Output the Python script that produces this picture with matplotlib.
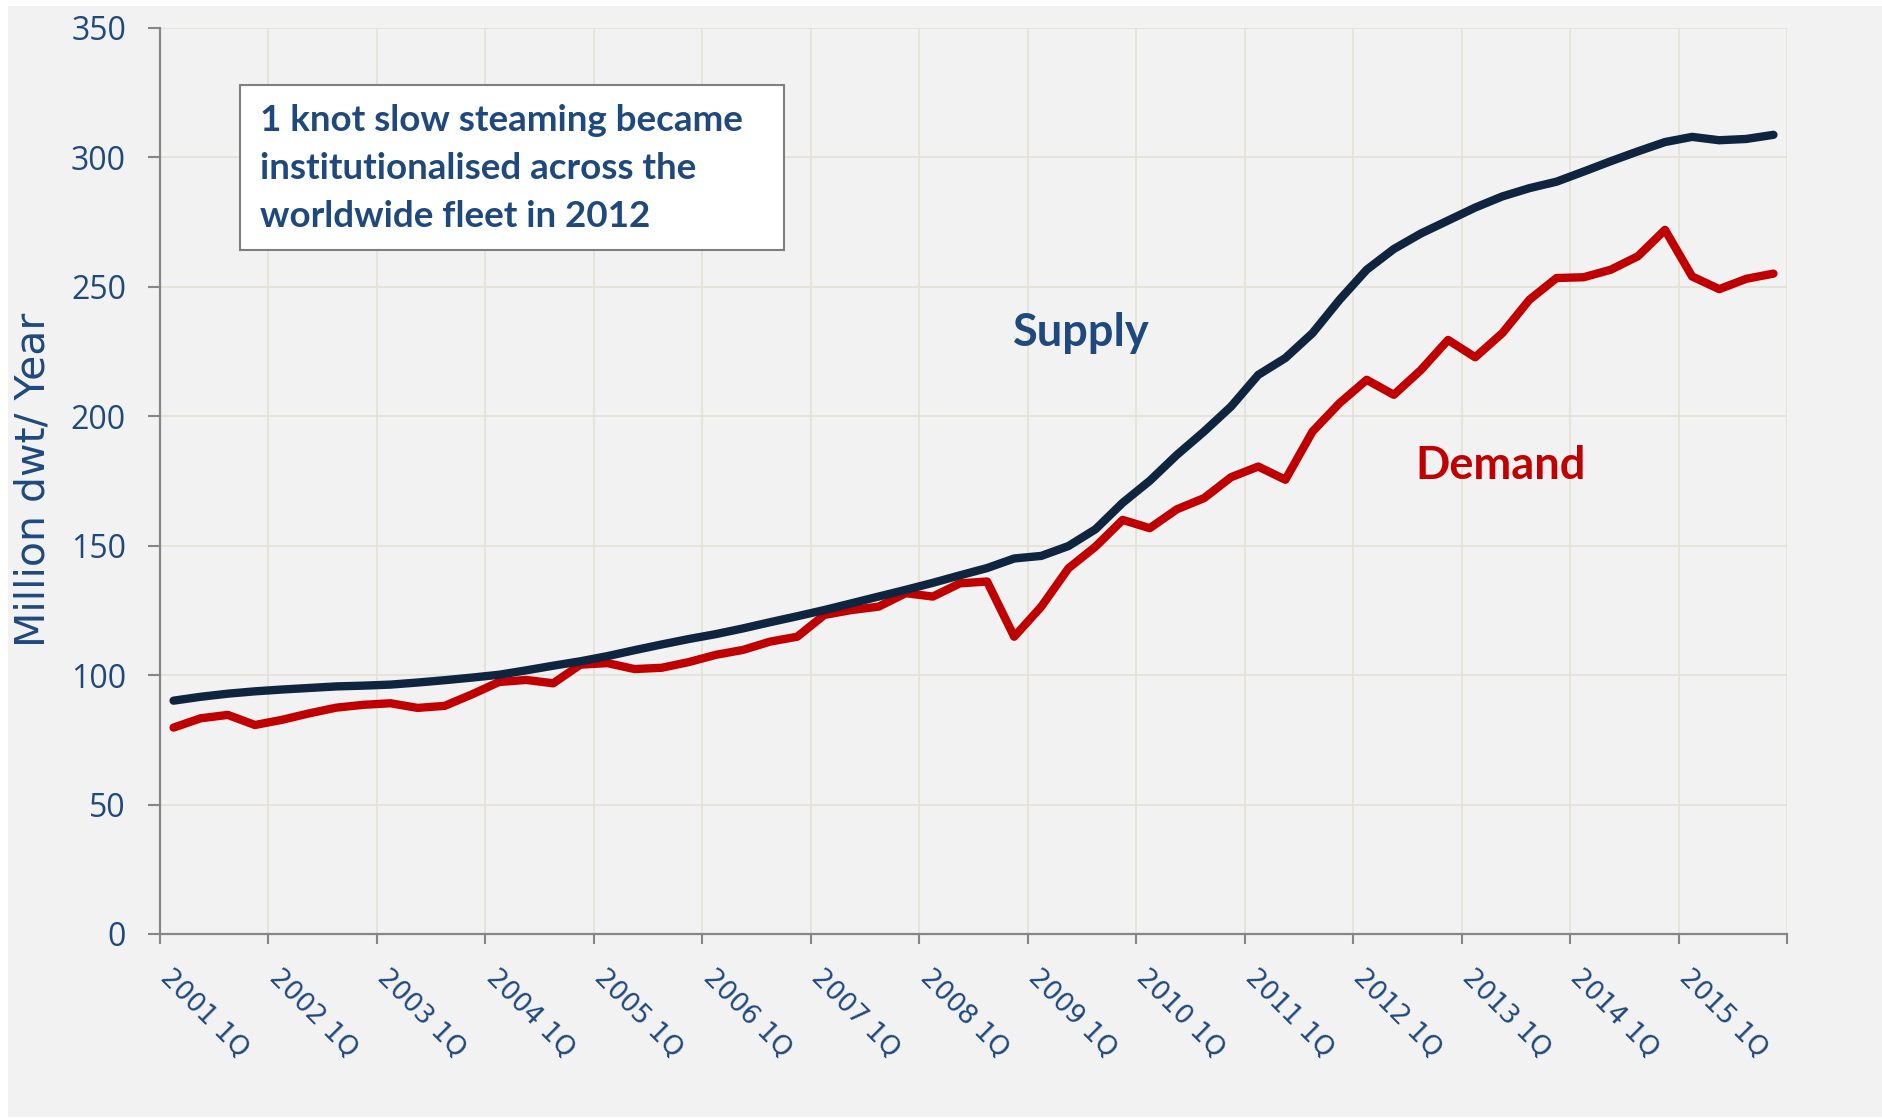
import numpy as np
import matplotlib
matplotlib.use('Agg')
import matplotlib.pyplot as plt
from matplotlib.patches import Rectangle

# quarterly values, 2001 1Q .. 2015 4Q (million dwt / year)
quarters = [f'{y} {q}Q' for y in range(2001, 2016) for q in range(1, 5)]
supply = [90.1, 91.6, 92.8, 93.7, 94.4, 95.0, 95.6, 95.9, 96.3, 97.1,
          98.0, 99.0, 100.1, 101.8, 103.6, 105.3, 107.3, 109.6, 111.8, 113.9,
          115.8, 118.0, 120.4, 122.7, 125.1, 127.7, 130.3, 132.9, 135.6, 138.5,
          141.3, 145.0, 146.0, 149.8, 156.3, 166.5, 175.0, 185.0, 194.0, 203.7,
          215.9, 222.4, 232.0, 244.9, 256.5, 264.5, 270.5, 275.5, 280.5, 284.8,
          288.0, 290.5, 294.4, 298.4, 302.2, 305.8, 307.8, 306.5, 307.0, 308.6]
demand = [79.7, 83.3, 84.6, 80.7, 82.7, 85.2, 87.4, 88.5, 89.1, 87.3,
          88.1, 92.5, 97.3, 98.1, 96.8, 104.0, 104.6, 102.3, 102.8, 105.0,
          107.8, 109.7, 112.9, 114.8, 123.2, 125.1, 126.4, 131.6, 130.3, 135.4,
          136.1, 114.8, 126.4, 141.2, 149.6, 159.9, 156.7, 164.0, 168.3, 176.4,
          180.5, 175.4, 194.0, 205.0, 214.0, 208.2, 217.8, 229.4, 222.7, 232.0,
          244.9, 253.3, 253.6, 256.5, 261.7, 271.9, 253.9, 249.0, 253.0, 255.0]
note_lines = ['1 knot slow steaming became',
              'institutionalised across the',
              'worldwide fleet in 2012']

BLUE = '#1F497D'
GREY = '#868686'

fig = plt.figure(figsize=(18.83, 11.19), dpi=100, facecolor='white')
fig.add_artist(Rectangle((8 / 1883, 2 / 1119), 1 - 8 / 1883, 1 - 8 / 1119,
                         transform=fig.transFigure, facecolor='#F2F2F2',
                         edgecolor='none', zorder=-10))
ax = fig.add_axes([0.08497, 0.16533, 0.86405, 0.81001])
ax.set_facecolor('#F2F2F2')

x = np.arange(len(quarters)) + 0.5
ax.plot(x, demand, color='#C00000', lw=6, solid_capstyle='round',
        solid_joinstyle='round', zorder=3)
ax.plot(x, supply, color='#0F243E', lw=6, solid_capstyle='round',
        solid_joinstyle='round', zorder=4)

ax.set_xlim(0, len(quarters))
ax.set_ylim(0, 350)
ax.set_yticks(range(0, 351, 50))
ax.set_xticks(np.arange(0, len(quarters) + 1, 4))
ax.set_xticklabels([])
ax.set_xticks(x[::4], quarters[::4], minor=True)
for lab in ax.get_xticklabels(minor=True):
    lab.set_rotation(-45)
    lab.set_ha('left')
    lab.set_va('top')
    lab.set_rotation_mode('anchor')

ax.grid(True, which='major', color='#E4E2D4', lw=1.2)
ax.set_axisbelow(True)
for s in ['top', 'right']:
    ax.spines[s].set_visible(False)
for s in ['left', 'bottom']:
    ax.spines[s].set_color(GREY)
    ax.spines[s].set_linewidth(1.6)

ax.tick_params(axis='x', which='major', length=7, width=1.5, color=GREY)
ax.tick_params(axis='x', which='minor', length=0, pad=22, labelsize=19,
               labelcolor=BLUE)
ax.tick_params(axis='y', length=8.5, width=1.5, color=GREY, pad=16,
               labelsize=23, labelcolor=BLUE)
for lab in ax.get_yticklabels():
    lab.set_family('Open Sans')

fig.text(34 / 1883, 1 - 480 / 1119, 'Million dwt/ Year', rotation=90,
         fontsize=29.5, color=BLUE, ha='center', va='center')

# note box
ax.add_patch(Rectangle((0.0492, 0.7546), 0.3343, 0.1821, transform=ax.transAxes,
                       facecolor='white', edgecolor='#7F7F7F', lw=1.5, zorder=5))
for k, line in enumerate(note_lines):
    ax.text(0.0615, 0.898 - k * 0.053, line, transform=ax.transAxes,
            fontsize=26.5, family='Lato', weight='bold', color=BLUE,
            ha='left', va='center', zorder=6)

ax.text(33.96, 232.0, 'Supply', fontsize=32.5, family='Lato', weight='bold',
        color=BLUE, ha='center', va='center', zorder=6)
ax.text(49.45, 180.8, 'Demand', fontsize=32.5, family='Lato', weight='bold',
        color='#C00000', ha='center', va='center', zorder=6)

fig.savefig('out.png', dpi=100, facecolor=fig.get_facecolor())
